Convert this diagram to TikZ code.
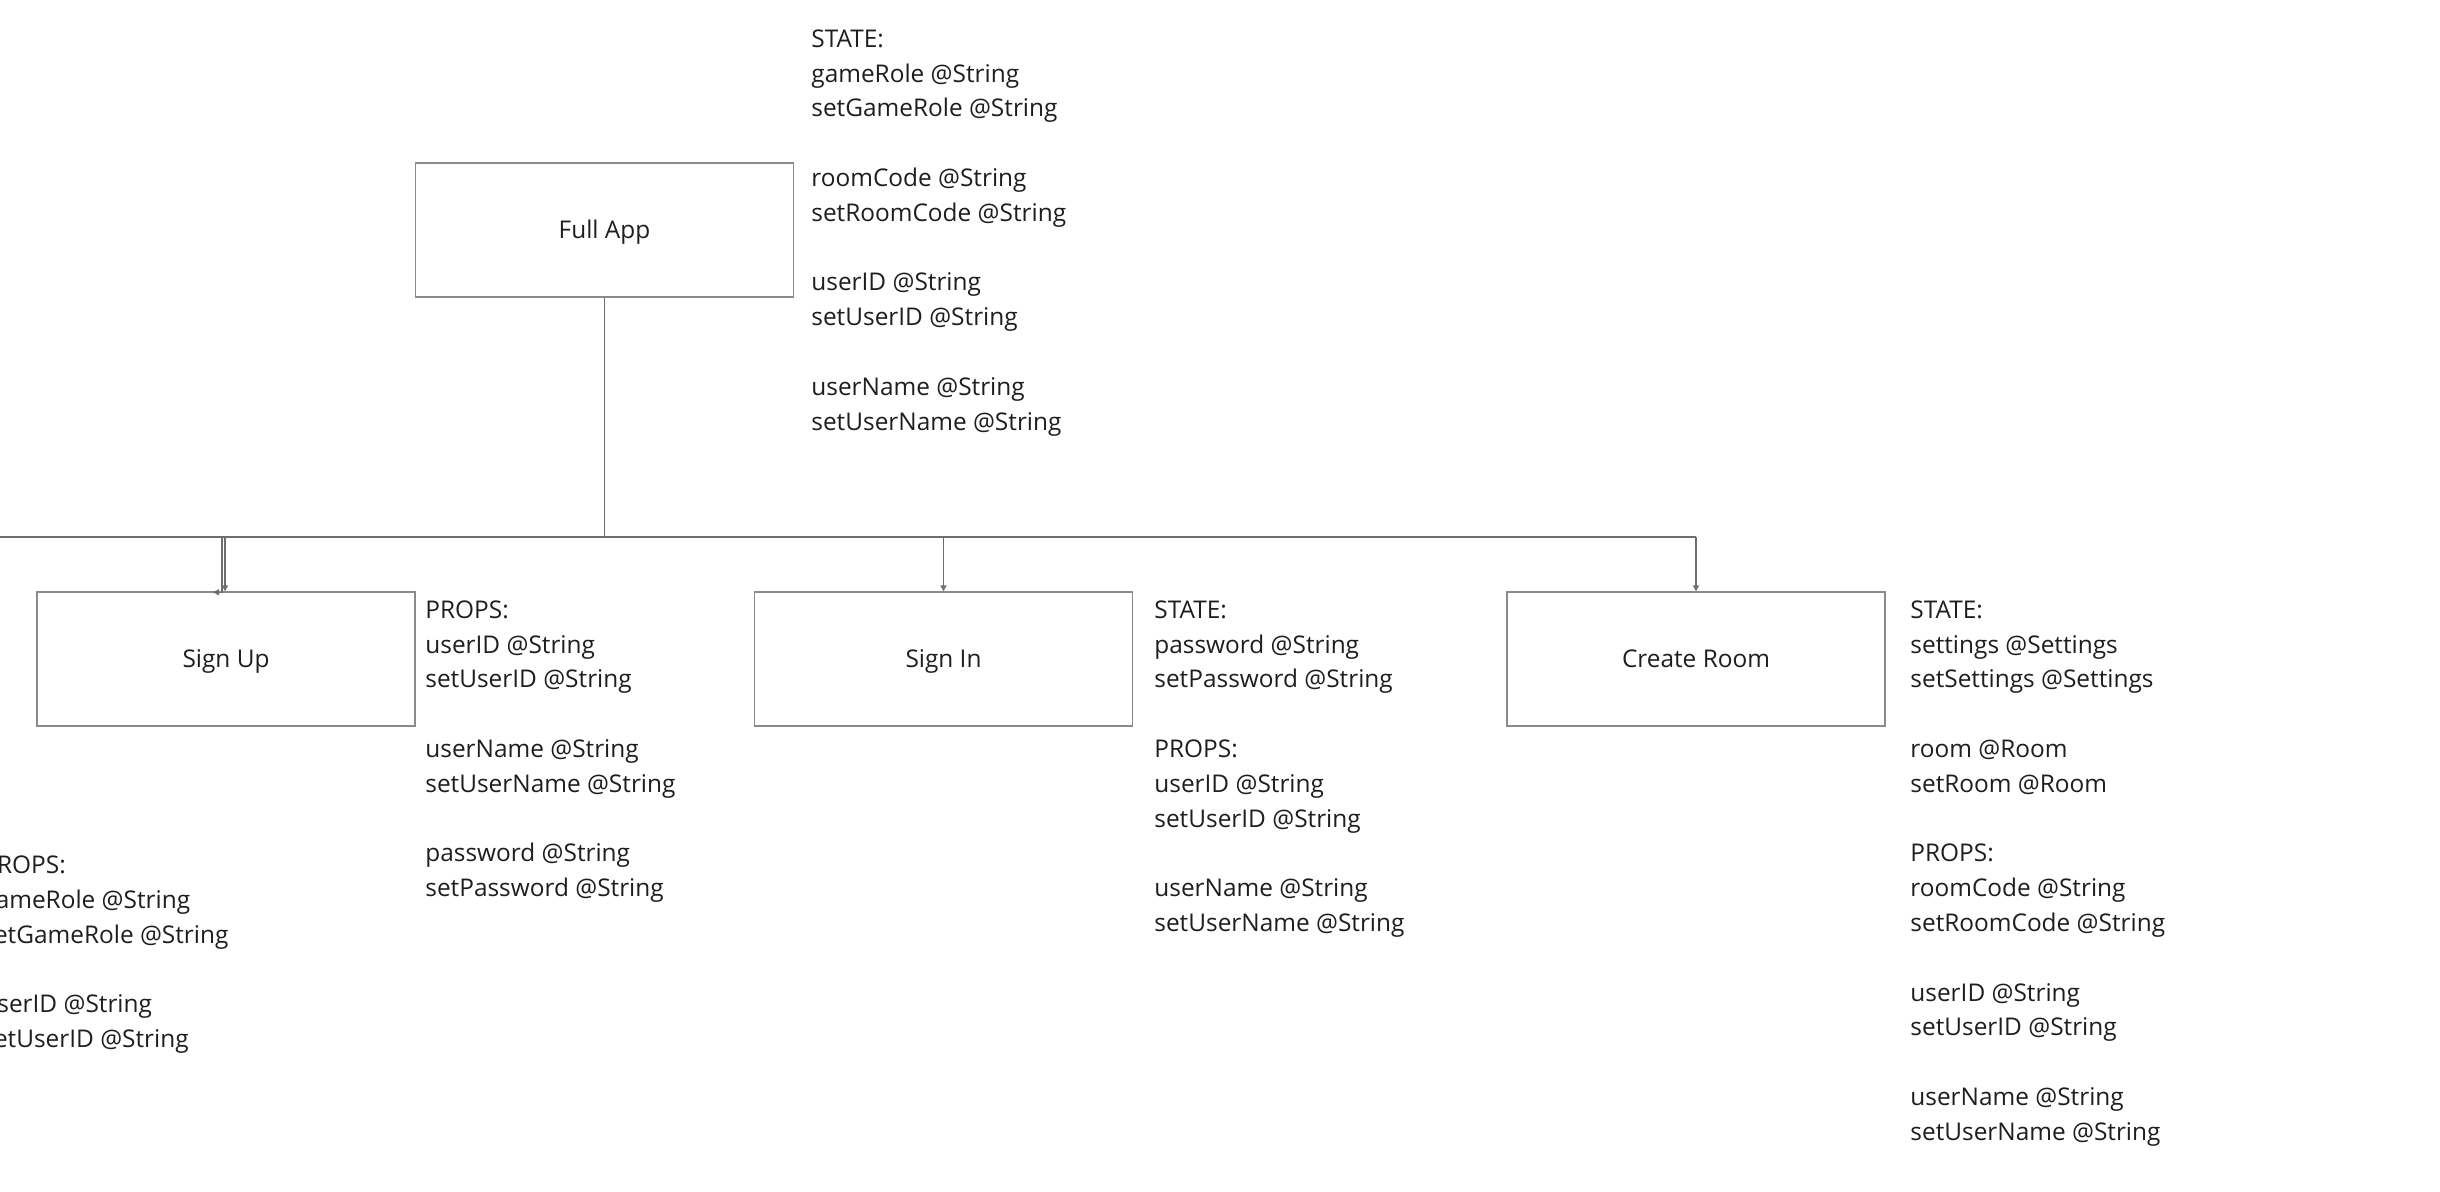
\documentclass[tikz,border=0pt]{standalone}
\usepackage{fontspec}
\setmainfont{Open Sans}
\usetikzlibrary{arrows.meta}
\definecolor{boxgray}{HTML}{8A8A8A}
\definecolor{linegray}{HTML}{6E6E6E}
\definecolor{txt}{HTML}{1E1E1E}
\begin{document}
\begin{tikzpicture}[x=0.5pt,y=-0.5pt,
  box/.style={draw=boxgray, line width=0.7pt, minimum width=189pt, minimum height=67pt, inner sep=0pt, text height=8.7pt, text depth=0pt, font=\fontsize{12.2}{17.4}\selectfont, text=txt},
  info/.style={anchor=base west, align=left, inner sep=0pt, font=\fontsize{12.2}{17.4}\selectfont, text=txt},
  link/.style={draw=linegray, line width=0.7pt},
  arr/.style={link, -{Triangle[length=3pt,width=3pt]}}]
\useasboundingbox (0,0) rectangle (2440,1192);
\clip (0,0) rectangle (2440,1192);
% boxes
\node[box] (fa) at (604.5,230) {Full App};
\node[box] (su) at (226,659) {Sign Up};
\node[box] (si) at (943.5,659) {Sign In};
\node[box] (cr) at (1696,659) {Create Room};
% texts (anchor: baseline of the last line)
\node[info] (fatxt) at (811,430.1) {STATE:\\gameRole @String\\setGameRole @String\\[17.4pt]roomCode @String\\setRoomCode @String\\[17.4pt]userID @String\\setUserID @String\\[17.4pt]userName @String\\setUserName @String};
\node[info] (sutxt) at (425,896.7) {PROPS:\\userID @String\\setUserID @String\\[17.4pt]userName @String\\setUserName @String\\[17.4pt]password @String\\setPassword @String};
\node[info] (sitxt) at (1154,931.5) {STATE:\\password @String\\setPassword @String\\[17.4pt]PROPS:\\userID @String\\setUserID @String\\[17.4pt]userName @String\\setUserName @String};
\node[info] (crtxt) at (1910,1140.3) {STATE:\\settings @Settings\\setSettings @Settings\\[17.4pt]room @Room\\setRoom @Room\\[17.4pt]PROPS:\\roomCode @String\\setRoomCode @String\\[17.4pt]userID @String\\setUserID @String\\[17.4pt]userName @String\\setUserName @String};
\node[info] (lefttxt) at (-18,1047.5) {PROPS:\\gameRole @String\\setGameRole @String\\[17.4pt]userID @String\\setUserID @String};
% connectors
\coordinate (busL) at (0,537);
\draw[link] (fa.south) -- (fa.south |- busL);
\draw[link] (busL) -- (cr.north |- busL);
\draw[arr] (cr.north |- busL) -- (cr.north);
\draw[arr] (si.north |- busL) -- (si.north);
\draw[arr] ([xshift=-0.5pt]su.north |- busL) -- ([xshift=-0.5pt]su.north);
\draw[arr] ([xshift=-2pt]su.north |- busL) -- ([xshift=-2pt,yshift=-0.5pt]su.north) -- ++(-9,0);
\end{tikzpicture}
\end{document}
